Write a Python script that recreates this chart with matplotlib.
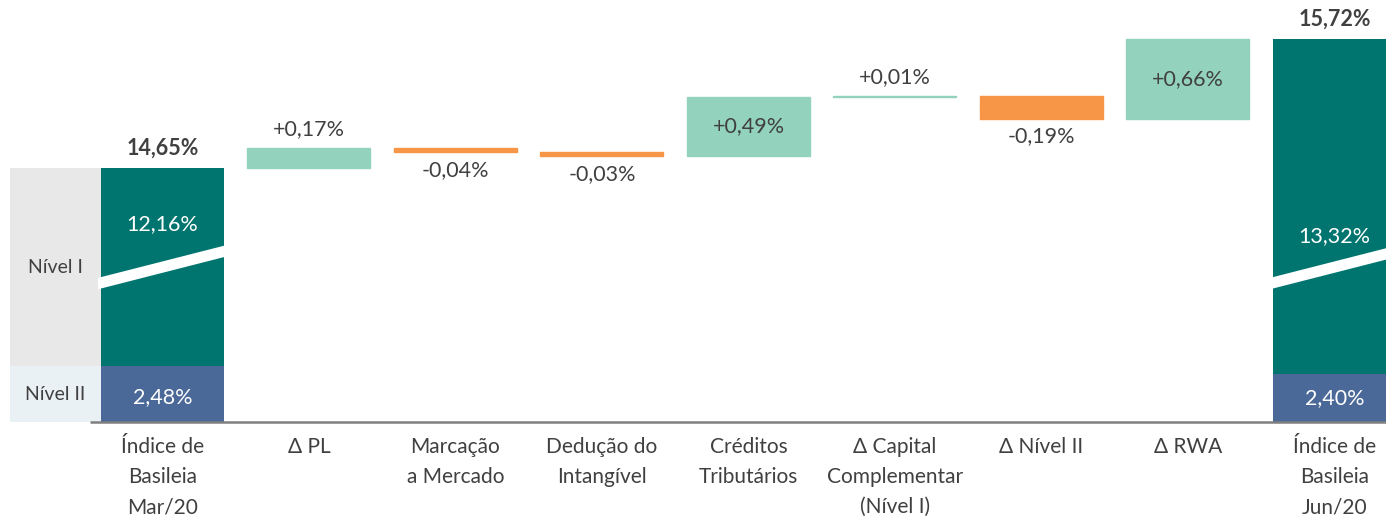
import numpy as np
import matplotlib
matplotlib.use('Agg')
import matplotlib.pyplot as plt
from matplotlib.patches import Polygon

# --- dados ---
categorias = ["Índice de\nBasileia\nMar/20", "Δ PL", "Marcação\na Mercado",
              "Dedução do\nIntangível", "Créditos\nTributários",
              "Δ Capital\nComplementar\n(Nível I)", "Δ Nível II", "Δ RWA",
              "Índice de\nBasileia\nJun/20"]
totais = [14.65, 15.72]
nivel1 = [12.16, 13.32]
nivel2 = [2.48, 2.40]
variacoes = [0.17, -0.04, -0.03, 0.49, 0.01, -0.19, 0.66]

# --- cores ---
c_n1 = "#00756F"
c_n2 = "#4A6898"
c_pos = "#93D3BE"
c_neg = "#F79646"
c_txt = "#404040"

plt.rcParams['font.family'] = ['Lato', 'DejaVu Sans']
fs = 15.5

# eixo quebrado: escala linear por partes (valor -> pixels)
vx = [-100, 0, 2.40, 2.48, 14.65, 100]
px = [-2000, 0, 48, 56, 254, 254 + 85.35 * 121]
fwd = lambda v: np.interp(v, vx, px)
inv = lambda p: np.interp(p, px, vx)

fig = plt.figure(figsize=(13.86, 5.18), dpi=100)
ax = fig.add_axes([0, 96 / 518, 1, 422 / 518])
ax.set_yscale('function', functions=(fwd, inv))
ax.set_ylim(0, 16.04)
ax.set_xlim(-1.109, 8.352)

w = 0.84
x_tot = [0, 8]

# caixas "Nível I / Nível II" à esquerda
ax.bar(-1.041, nivel2[0], width=0.621, align='edge', color="#EAF1F4", zorder=1)
ax.bar(-1.041, totais[0] - nivel2[0], bottom=nivel2[0], width=0.621,
       align='edge', color="#E8E8E8", zorder=1)
ax.text(-0.73, inv(56 / 2), "Nível II", ha='center', va='center',
        fontsize=14, color=c_txt)
ax.text(-0.73, inv((56 + 254) / 2), "Nível I", ha='center', va='center',
        fontsize=14, color=c_txt)

# barras de total
for i, x in enumerate(x_tot):
    ax.bar(x, nivel2[i], width=w, color=c_n2, zorder=2)
    ax.bar(x, totais[i] - nivel2[i], bottom=nivel2[i], width=w, color=c_n1, zorder=2)
    ax.text(x, nivel2[i] / 2, f"{nivel2[i]:.2f}%".replace('.', ','),
            ha='center', va='center', fontsize=fs, color='white', zorder=4)
    ax.annotate(f"{totais[i]:.2f}%".replace('.', ','), (x, totais[i]),
                xytext=(0, 14), textcoords='offset points', ha='center',
                va='center', fontsize=fs, fontweight='bold', color=c_txt)
    # marca de quebra
    l, r = x - 0.44, x + 0.42
    y0 = 7.2
    s = 2.3
    band = Polygon([(l, y0), (r, y0 + s * (r - l)), (r, y0 + s * (r - l) + 0.7),
                    (l, y0 + 0.7)], closed=True, facecolor='white',
                   edgecolor='none', zorder=3)
    ax.add_patch(band)

ax.text(0, 11.2, f"{nivel1[0]:.2f}%".replace('.', ','), ha='center',
        va='center', fontsize=fs, color='white', zorder=4)
ax.text(8, 10.45, f"{nivel1[1]:.2f}%".replace('.', ','), ha='center',
        va='center', fontsize=fs, color='white', zorder=4)

# cascata
nivel = totais[0]
for i, d in enumerate(variacoes):
    x = i + 1
    base = min(nivel, nivel + d)
    cor = c_pos if d > 0 else c_neg
    ax.bar(x, abs(d), bottom=base, width=w, color=cor, edgecolor=cor,
           linewidth=1, zorder=2)
    txt = f"{d:+.2f}%".replace('.', ',')
    if abs(d) > 0.3:
        ax.text(x, base + abs(d) / 2, txt, ha='center', va='center',
                fontsize=fs, color=c_txt, zorder=4)
    elif d > 0:
        ax.annotate(txt, (x, base + abs(d)), xytext=(0, 13.5),
                    textcoords='offset points', ha='center', va='center',
                    fontsize=fs, color=c_txt)
    else:
        ax.annotate(txt, (x, base), xytext=(0, -13),
                    textcoords='offset points', ha='center', va='center',
                    fontsize=fs, color=c_txt)
    nivel += d

# eixo x
ax.hlines(0, -0.495, 8.352, color="#7F7F7F", linewidth=1.8, zorder=5, clip_on=False)
ax.set_xticks(range(len(categorias)))
ax.set_xticklabels(categorias, fontsize=15, color=c_txt, linespacing=1.62, va='top')
ax.tick_params(axis='x', length=0, pad=11)
ax.set_yticks([])
ax.yaxis.set_minor_locator(matplotlib.ticker.NullLocator())
for sp in ax.spines.values():
    sp.set_visible(False)

fig.savefig("out.png", dpi=100)
